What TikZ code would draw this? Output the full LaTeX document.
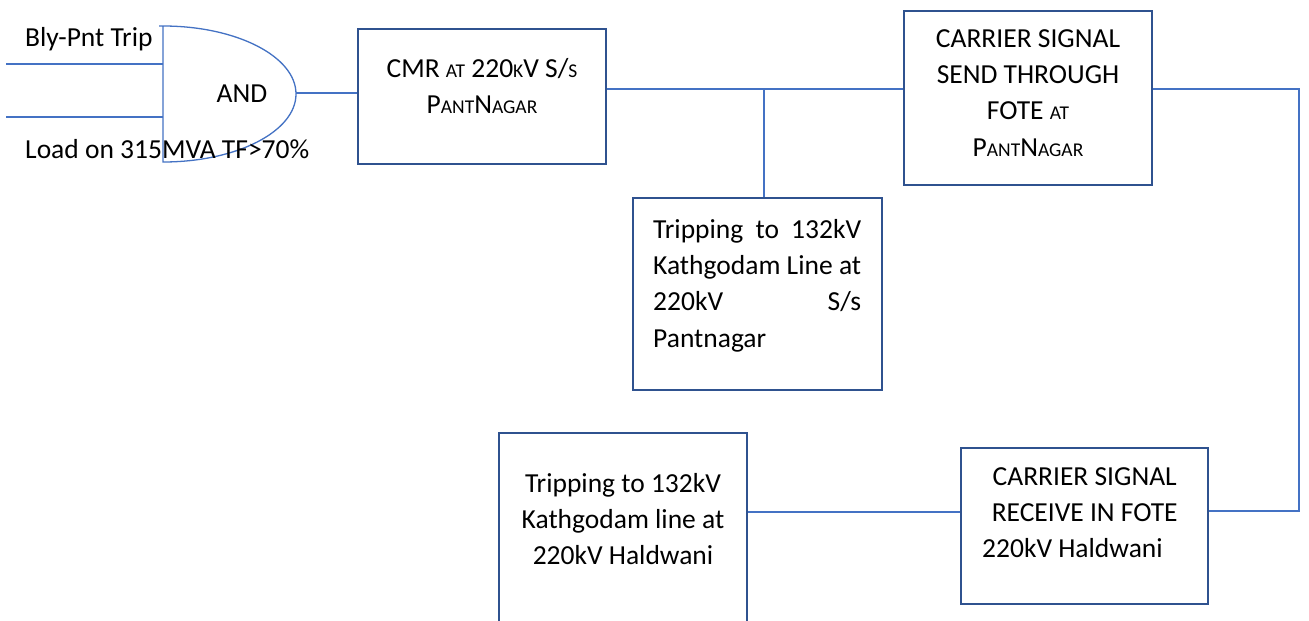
\documentclass[tikz,border=0pt]{standalone}
\usepackage{fontspec}
\setmainfont{Carlito}
\newcommand\fsz{\fontsize{27.5}{36.3}\selectfont}
\newcommand\sca[1]{{\fontsize{19.5}{36.3}\selectfont #1}}
\newcommand\fl{\rule{0pt}{25pt}}
\definecolor{boxblue}{HTML}{2F528F}
\definecolor{lineblue}{HTML}{4472C4}
\tikzset{
  blk/.style={draw=boxblue, line width=2.4pt, rectangle, inner sep=0pt, fill=white},
  wire/.style={draw=lineblue, line width=1.3pt},
  txt/.style={inner sep=0pt, font=\fsz, text=black},
}
\begin{document}
\begin{tikzpicture}[x=1pt,y=-1pt]
\useasboundingbox (0,0) rectangle (1309,621);
\fill[white] (0,0) rectangle (1309,621);
\clip (0,0) rectangle (1309,621);

% boxes
\node[blk, minimum width=248pt, minimum height=135pt] (cmr) at (482,96.5) {};
\node[blk, minimum width=248pt, minimum height=174pt] (send) at (1028,98) {};
\node[blk, minimum width=249pt, minimum height=192pt] (trip1) at (757.5,294) {};
\node[blk, minimum width=247pt, minimum height=156pt] (recv) at (1084.5,526) {};
\node[blk, minimum width=248pt, minimum height=214pt] (trip2) at (623,540) {};

% AND gate
\draw[wire] (159,26) -- (163,26) arc[start angle=90, end angle=-90, x radius=133pt, y radius=68pt] -- (163,26);
\coordinate (andout) at (296,93);
\coordinate (andin1) at (163,64);
\coordinate (andin2) at (163,117);
\coordinate (in1) at (6,64);
\coordinate (in2) at (6,117);

% connectors
\draw[wire] (in1) -- (andin1);
\draw[wire] (in2) -- (andin2);
\draw[wire] (andout) -- (andout -| cmr.west);
\coordinate (j) at (764,89);
\coordinate (c1) at (1299,89);
\coordinate (c2) at (1299,511);
\coordinate (c3) at (860,512);
\draw[wire] (cmr.east |- j) -- (send.west |- j);
\draw[wire] (j) -- (j |- trip1.north);
\draw[wire] (send.east |- c1) -- (c1) -- (c2) -- (recv.east |- c2);
\draw[wire] (recv.west |- c3) -- (trip2.east |- c3);

% texts
\node[txt, anchor=base west] (t1) at (25,46) {Bly-Pnt Trip};
\node[txt, anchor=base] (tand) at (242,102) {AND};
\node[txt, anchor=base west] (t2) at (25,158) {Load on 315MVA TF>70\%};
\node[txt, align=center, anchor=north] (tcmr) at (482,52) {\fl CMR \sca{AT} 220\sca{K}V S/\sca{S}\\P\sca{ANT}N\sca{AGAR}};
\node[txt, align=center, anchor=north] (tsend) at (1028,22) {\fl CARRIER SIGNAL\\SEND THROUGH\\FOTE \sca{AT}\\P\sca{ANT}N\sca{AGAR}};
\node[txt, align=left, anchor=north west] (ttrip1) at (653,213) {\fl\makebox[208pt][s]{Tripping to 132kV}\\\makebox[208pt][s]{Kathgodam Line at}\\\makebox[208pt][s]{220kV S/s}\\Pantnagar};
\node[txt, align=center, anchor=north] (ttrip2) at (623,467) {\fl Tripping to 132kV\\Kathgodam line at\\220kV Haldwani};
\node[txt, align=left, anchor=north west] (trecv) at (982,460) {\fl\makebox[205pt]{CARRIER SIGNAL}\\\makebox[205pt]{RECEIVE IN FOTE}\\220kV Haldwani};
\end{tikzpicture}
\end{document}
